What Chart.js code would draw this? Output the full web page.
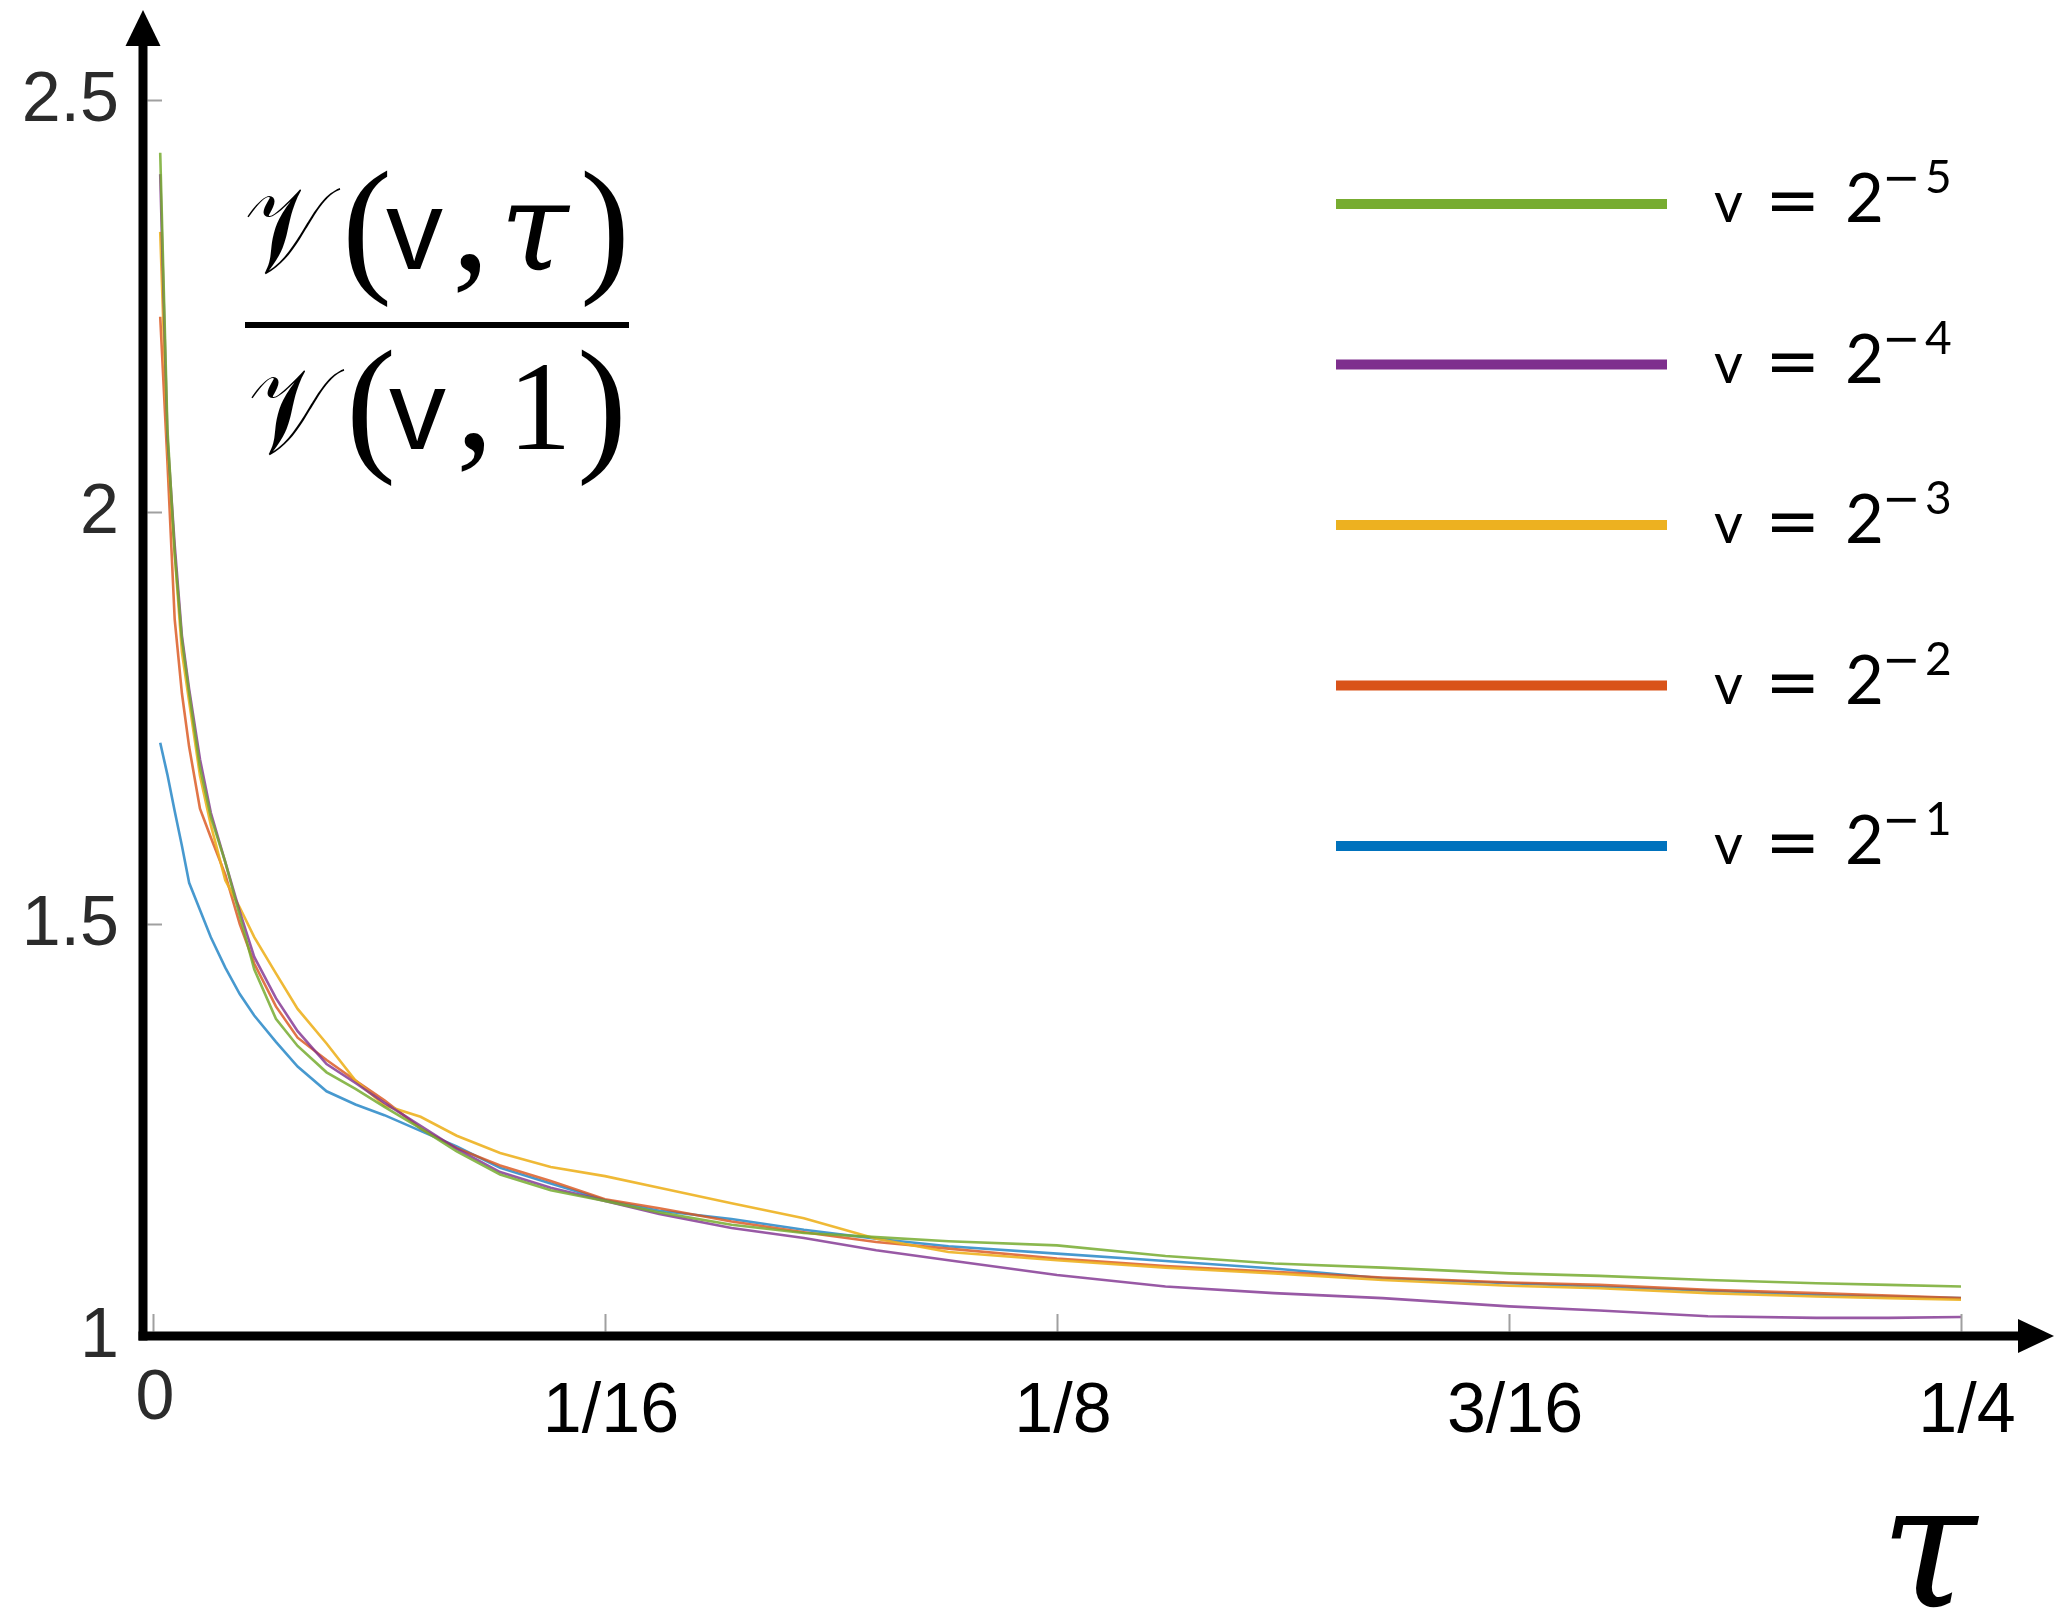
<!DOCTYPE html>
<html>
<head>
<meta charset="utf-8">
<title>Normalised V(v, tau)</title>
<script src="https://cdn.jsdelivr.net/npm/chart.js@4.4.1/dist/chart.umd.min.js"></script>
<style>
  html, body { margin: 0; padding: 0; background: #ffffff; }
  #wrap { position: relative; width: 2056px; height: 1610px; }
  canvas { display: block; }
</style>
</head>
<body>
<div id="wrap"><canvas id="chart" width="2056" height="1610"></canvas></div>
<script>
// Sample times tau, shared by every curve
const tauValues = [0.001, 0.002, 0.003, 0.004, 0.005, 0.0065, 0.008, 0.010, 0.012, 0.014,
  0.017, 0.020, 0.024, 0.028, 0.032, 0.037, 0.042, 0.048, 0.055, 0.0625,
  0.070, 0.080, 0.090, 0.100, 0.110, 0.125, 0.140, 0.155, 0.170, 0.1875,
  0.200, 0.215, 0.230, 0.240, 0.250];

// V(v, tau) / V(v, 1) for each v
const ratioV5 = [2.436, 2.10, 1.95, 1.845, 1.78, 1.69, 1.63, 1.575, 1.51, 1.445,
  1.385, 1.352, 1.32, 1.30, 1.278, 1.252, 1.224, 1.196, 1.177, 1.164,
  1.150, 1.135, 1.125, 1.120, 1.115, 1.110, 1.097, 1.088, 1.083, 1.076,
  1.073, 1.068, 1.064, 1.062, 1.060];
const ratioV4 = [2.41, 2.09, 1.96, 1.85, 1.785, 1.70, 1.635, 1.575, 1.515, 1.46,
  1.41, 1.37, 1.33, 1.307, 1.283, 1.255, 1.227, 1.199, 1.180, 1.164,
  1.148, 1.131, 1.119, 1.104, 1.092, 1.074, 1.060, 1.052, 1.046, 1.036,
  1.031, 1.024, 1.022, 1.022, 1.023];
const ratioV3 = [2.34, 2.08, 1.95, 1.83, 1.77, 1.68, 1.62, 1.553, 1.52, 1.484,
  1.44, 1.397, 1.355, 1.31, 1.28, 1.266, 1.243, 1.222, 1.205, 1.194,
  1.18, 1.161, 1.143, 1.118, 1.102, 1.092, 1.083, 1.076, 1.068, 1.061,
  1.058, 1.052, 1.048, 1.046, 1.044];
const ratioV2 = [2.237, 2.06, 1.87, 1.78, 1.715, 1.64, 1.605, 1.56, 1.50, 1.452,
  1.40, 1.362, 1.335, 1.31, 1.286, 1.252, 1.228, 1.207, 1.188, 1.166,
  1.155, 1.139, 1.126, 1.114, 1.106, 1.094, 1.085, 1.078, 1.071, 1.065,
  1.062, 1.056, 1.052, 1.049, 1.046];
const ratioV1 = [1.72, 1.681, 1.637, 1.595, 1.55, 1.517, 1.484, 1.447, 1.415, 1.389,
  1.357, 1.327, 1.297, 1.281, 1.268, 1.249, 1.230, 1.204, 1.185, 1.165,
  1.152, 1.142, 1.129, 1.118, 1.109, 1.100, 1.091, 1.082, 1.070, 1.064,
  1.060, 1.055, 1.050, 1.048, 1.046];

// Legend entries (top to bottom): exponent of 2 for each v
const seriesExponents = ['\u22125', '\u22124', '\u22123', '\u22122', '\u22121'];
const seriesLabels = ['v = 2^-5', 'v = 2^-4', 'v = 2^-3', 'v = 2^-2', 'v = 2^-1'];
const seriesValues = [ratioV5, ratioV4, ratioV3, ratioV2, ratioV1];
const seriesColors = ['#77AC30', '#7E2F8E', '#EDB120', '#D95319', '#0072BD'];
const curveColors = ['rgba(119,172,48,0.85)', 'rgba(126,47,142,0.8)', 'rgba(237,177,32,0.9)',
  'rgba(217,83,25,0.8)', 'rgba(0,114,189,0.72)'];

// Axis ticks
const xTicks = [0, 1/16, 1/8, 3/16, 1/4];
const xTickLabels = ['0', '1/16', '1/8', '3/16', '1/4'];
const yTicks = [1, 1.5, 2, 2.5];
const yTickLabels = ['1', '1.5', '2', '2.5'];

const datasets = seriesValues.map((vals, i) => ({
  label: seriesLabels[i],
  data: tauValues.map((t, k) => ({ x: t, y: vals[k] })),
  borderColor: curveColors[i],
  backgroundColor: curveColors[i],
  borderWidth: 2.6,
  pointRadius: 0,
  tension: 0,
  fill: false
}));

function glyph(ctx, text, font, x, y, color, sx) {
  ctx.save();
  ctx.font = font;
  ctx.fillStyle = color || '#000';
  ctx.textAlign = 'left';
  ctx.textBaseline = 'alphabetic';
  ctx.translate(x, y);
  if (sx) ctx.scale(sx, 1);
  ctx.fillText(text, 0, 0);
  ctx.restore();
}

// Arrowed axes, inner tick marks and tick labels
const axesPlugin = {
  id: 'arrowAxes',
  afterDatasetsDraw(chart) {
    const { ctx, chartArea: a, scales: { x, y } } = chart;
    const x0 = a.left;
    const y0 = y.getPixelForValue(1);
    ctx.save();

    // light grey ticks pointing into the plot
    ctx.strokeStyle = '#a0a0a0';
    ctx.lineWidth = 2;
    ctx.beginPath();
    yTicks.forEach(v => {
      if (v === 1) return;
      const py = Math.round(y.getPixelForValue(v)) + 0.5;
      ctx.moveTo(x0 + 4.5, py); ctx.lineTo(x0 + 19, py);
    });
    xTicks.forEach(v => {
      const px = Math.round(x.getPixelForValue(v)) + 0.5;
      ctx.moveTo(px, y0 - 4.5); ctx.lineTo(px, y0 - 22);
    });
    ctx.stroke();

    // thick black axes with arrow heads
    ctx.fillStyle = '#000';
    ctx.fillRect(x0 - 4.5, 44, 9, y0 + 4.5 - 44);
    ctx.fillRect(x0 - 4.5, y0 - 4.5, 2020 - (x0 - 4.5), 9);
    ctx.beginPath();
    ctx.moveTo(x0, 10); ctx.lineTo(x0 + 17.5, 46); ctx.lineTo(x0 - 17.5, 46); ctx.closePath();
    ctx.fill();
    ctx.beginPath();
    ctx.moveTo(2054, y0); ctx.lineTo(2018, y0 - 17); ctx.lineTo(2018, y0 + 17); ctx.closePath();
    ctx.fill();

    // y tick labels
    ctx.font = '70px "Liberation Sans", Arial, sans-serif';
    ctx.fillStyle = '#2b2b2b';
    ctx.textAlign = 'right';
    ctx.textBaseline = 'middle';
    yTicks.forEach((v, i) => {
      ctx.fillText(yTickLabels[i], x0 - 24, y.getPixelForValue(v) + 2);
    });

    // x tick labels
    ctx.textAlign = 'center';
    xTicks.forEach((v, i) => {
      const px = x.getPixelForValue(v);
      if (i === 0) {
        ctx.font = '70px "Liberation Sans", Arial, sans-serif';
        ctx.fillStyle = '#2b2b2b';
        ctx.fillText(xTickLabels[i], px + 2, y0 + 64);
      } else {
        ctx.font = '70px "Liberation Sans", Arial, sans-serif';
        ctx.fillStyle = '#000';
        ctx.fillText(xTickLabels[i], px + 6, y0 + 77);
      }
    });

    // axis name tau
    glyph(ctx, '\u03C4', 'italic 175px "DejaVu Serif", "Liberation Serif", serif', 1880, 1606, '#000');

    ctx.restore();
  }
};

// Legend: coloured bars with v = 2^(-k)
const legendPlugin = {
  id: 'sideLegend',
  afterDraw(chart) {
    const { ctx } = chart;
    ctx.save();
    chart.data.datasets.forEach((ds, i) => {
      const rowY = 204 + i * 160.5;
      ctx.strokeStyle = seriesColors[i];
      ctx.lineWidth = 10;
      ctx.lineCap = 'butt';
      ctx.beginPath();
      ctx.moveTo(1336, rowY); ctx.lineTo(1667, rowY);
      ctx.stroke();
      const base = rowY + 18;
      glyph(ctx, 'v', '56px Lato, "Open Sans", sans-serif', 1714, base);
      glyph(ctx, '=', '66px "DejaVu Sans", sans-serif', 1765, base);
      glyph(ctx, '2', '67px Lato, "Open Sans", sans-serif', 1845, base);
      const exp = seriesExponents[i];
      glyph(ctx, exp.charAt(0), '46px "DejaVu Sans", sans-serif', 1882, base - 29);
      glyph(ctx, exp.slice(1), '46px Lato, "Open Sans", sans-serif', 1925, base - 29);
    });
    ctx.restore();
  }
};

// The ratio V(v, tau) / V(v, 1) written as a fraction
const formulaPlugin = {
  id: 'ratioLabel',
  afterDraw(chart) {
    const { ctx } = chart;
    ctx.save();
    const calV = '\uD835\uDCB1';
    const calFont = '122px "DejaVu Serif", "DejaVu Sans", serif';
    const paren = '150px "Liberation Serif", "DejaVu Serif", serif';
    const sans = '114px "Liberation Sans", Arial, sans-serif';
    const nb = 270, db = 449;
    // numerator
    glyph(ctx, calV, calFont, 244, nb + 2, '#000', 0.82);
    glyph(ctx, '(', paren, 342, nb + 5);
    glyph(ctx, 'v', sans, 386, nb - 1);
    glyph(ctx, ',', paren, 452, nb);
    glyph(ctx, '\u03C4', 'italic 124px "DejaVu Serif", "Liberation Serif", serif', 500, nb);
    glyph(ctx, ')', paren, 580, nb + 5);
    // bar
    ctx.fillStyle = '#000';
    ctx.fillRect(245, 322, 384, 6);
    // denominator
    glyph(ctx, calV, calFont, 248, db + 4, '#000', 0.82);
    glyph(ctx, '(', paren, 346, db + 5);
    glyph(ctx, 'v', sans, 389, db);
    glyph(ctx, ',', paren, 456, db);
    glyph(ctx, '1', '127px "Liberation Serif", "DejaVu Serif", serif', 508, db);
    glyph(ctx, ')', paren, 577, db + 5);
    ctx.restore();
  }
};

new Chart(document.getElementById('chart'), {
  type: 'line',
  data: { datasets },
  options: {
    responsive: false,
    animation: false,
    devicePixelRatio: 1,
    layout: { padding: { left: 143, right: 95, top: 100, bottom: 274 } },
    plugins: { legend: { display: false }, tooltip: { enabled: false } },
    scales: {
      x: { type: 'linear', min: -0.00138, max: 0.25, display: false },
      y: { type: 'linear', min: 1, max: 2.5, display: false }
    }
  },
  plugins: [axesPlugin, legendPlugin, formulaPlugin]
});
</script>
</body>
</html>
